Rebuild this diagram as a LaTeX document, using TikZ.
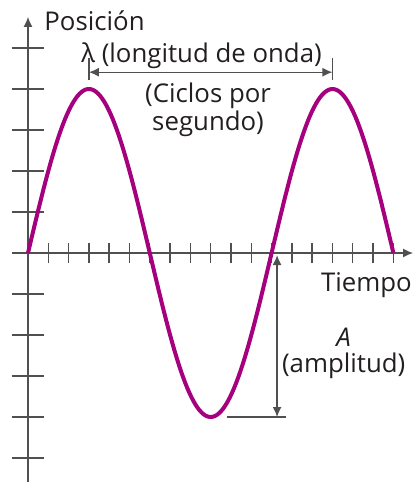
\documentclass[tikz,border=0pt]{standalone}
\usepackage{fontspec}
\setmainfont{Open Sans}
\usetikzlibrary{arrows.meta}
\definecolor{onda}{RGB}{165,0,125}
\definecolor{eje}{RGB}{80,80,80}
\definecolor{texto}{RGB}{35,31,32}

\begin{document}
\begin{tikzpicture}[x=10.15pt, y=20.5pt, font=\fontsize{12.9}{12.8}\selectfont, line join=round, >={Latex[length=5pt,width=4.5pt]}, every node/.style={texto, inner sep=0pt}]
	\def\xmax{18.97} \def\ymin{-5.7} \def\ymax{5.76}
	\useasboundingbox (-1.379,-5.585) rectangle (19.015,6.171);
	\draw[eje, line width=0.7pt, ->] (-0.79,0)--(\xmax,0);
	\draw[eje, line width=0.7pt, ->] (0,\ymin)--(0,\ymax);
	\foreach \k in {1,...,18} \draw[eje, line width=0.7pt] (\k,-0.244)--(\k,0.244);
	\foreach \k in {-5,...,-1,1,2,...,5} \draw[eje, line width=0.7pt] (-0.8,\k)--(0.8,\k);
	\draw[onda, line width=2pt, smooth, samples=200, domain=0:18] plot(\x,{4*sin(30*\x)});
	% longitud de onda
	\coordinate (l1) at (3,4.41); \coordinate (l2) at (15,4.41);
	\draw[eje, line width=0.7pt] (3,4.22)--(3,4.76) (15,4.22)--(15,4.76);
	\draw[eje, line width=0.7pt, <->] (l1)--(l2);
	% amplitud
	\coordinate (a1) at (12.27,-0.05); \coordinate (a2) at (12.27,-4);
	\draw[eje, line width=0.7pt, <->] (a1)--(a2);
	\draw[eje, line width=0.7pt] (9.8,-4)--(12.7,-4);
	\node[anchor=west] (pos) at (0.79,5.66) {Posición};
	\node (lambda) at (8.55,4.8) {λ (longitud de onda)};
	\node[align=center] (ciclos) at (8.87,3.5) {(Ciclos por\\segundo)};
	\node[anchor=east] (tiempo) at (18.92,-0.78) {Tiempo};
	\node[align=center] (amp) at (15.55,-2.45) {\textit{A}\\(amplitud)};
\end{tikzpicture}
\end{document}
